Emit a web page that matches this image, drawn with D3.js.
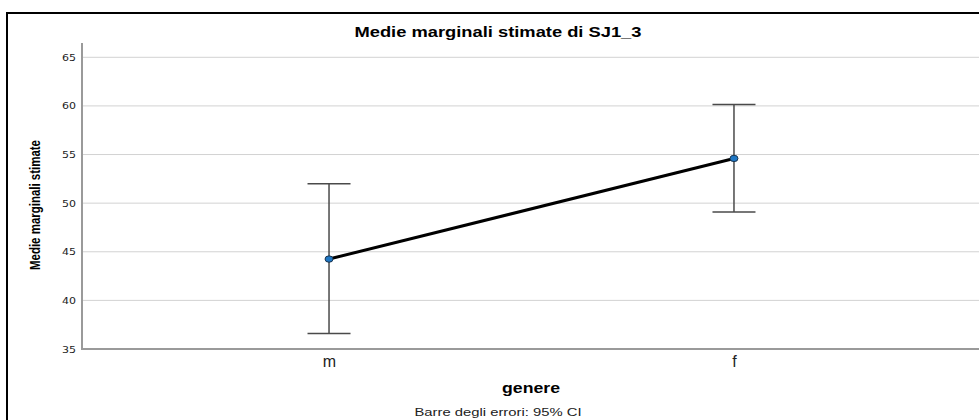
<!DOCTYPE html>
<html><head><meta charset="utf-8">
<script src="https://cdn.jsdelivr.net/npm/d3@7"></script>
<style>body{margin:0;background:#fff}svg{display:block}</style>
</head><body>
<svg id="c" width="979" height="420"></svg>
<script>
const categories = ["m", "f"];
const means = [44.25, 54.6];
const lower = [36.6, 49.1];
const upper = [52.0, 60.15];
const yTicks = [35, 40, 45, 50, 55, 60, 65];

const svg = d3.select("#c");
const L = 82, R = 981, T = 43, B = 349;
svg.append("rect").attr("x", 7).attr("y", 13).attr("width", 1010).attr("height", 420)
  .attr("fill", "#fff").attr("stroke", "#000").attr("stroke-width", 2);

const y = d3.scaleLinear().domain([35, 65]).range([B, 57.3]);
const x = d3.scalePoint().domain(categories).range([L, R]).padding(0.61);

// gridlines
svg.append("g").selectAll("line").data(yTicks.slice(1)).join("line")
  .attr("x1", L).attr("x2", R).attr("y1", d => y(d)).attr("y2", d => y(d))
  .attr("stroke", "#d2d2d2").attr("stroke-width", 1);

// y axis
const ya = svg.append("g").attr("transform", `translate(${L},0)`)
  .call(d3.axisLeft(y).tickValues(yTicks).tickSize(0).tickPadding(6));
ya.select(".domain").remove();
ya.selectAll("text").attr("font-family", "DejaVu Sans").attr("font-size", 9.5).attr("fill", "#222")
  .attr("textLength", 14).attr("lengthAdjust", "spacingAndGlyphs");
svg.append("line").attr("x1", L).attr("x2", L).attr("y1", T).attr("y2", B + 1)
  .attr("stroke", "#9a9a9a").attr("stroke-width", 2);

// x axis
const xa = svg.append("g").attr("transform", `translate(0,${B})`)
  .call(d3.axisBottom(x).tickSize(0).tickPadding(0));
xa.select(".domain").remove();
xa.selectAll("text").attr("dy", null).attr("y", 18)
  .attr("font-family", "Liberation Sans").attr("font-size", 16).attr("fill", "#222");
svg.append("line").attr("x1", L - 1).attr("x2", R).attr("y1", B).attr("y2", B)
  .attr("stroke", "#9a9a9a").attr("stroke-width", 2);

// error bars
const eb = svg.append("g").attr("stroke", "#4a4a4a").attr("stroke-width", 1.5);
categories.forEach((c, i) => {
  eb.append("line").attr("x1", x(c)).attr("x2", x(c)).attr("y1", y(lower[i])).attr("y2", y(upper[i]));
  [lower[i], upper[i]].forEach(v => {
    eb.append("line").attr("x1", x(c) - 21.5).attr("x2", x(c) + 21.5).attr("y1", y(v)).attr("y2", y(v));
  });
});

// line
svg.append("path").datum(categories.map((c, i) => [x(c), y(means[i])]))
  .attr("d", d3.line()).attr("fill", "none").attr("stroke", "#000").attr("stroke-width", 3);

// points
svg.append("g").selectAll("ellipse").data(categories).join("ellipse")
  .attr("cx", d => x(d)).attr("cy", (d, i) => y(means[i])).attr("rx", 4).attr("ry", 3.2)
  .attr("fill", "#1f77c4").attr("stroke", "#1a3550").attr("stroke-width", 1);

// titles
svg.append("text").attr("x", 498).attr("y", 37).attr("text-anchor", "middle")
  .attr("font-family", "Liberation Sans").attr("font-weight", "bold").attr("font-size", 15.5)
  .attr("textLength", 287).attr("lengthAdjust", "spacingAndGlyphs")
  .text("Medie marginali stimate di SJ1_3");
svg.append("text").attr("x", 531).attr("y", 393).attr("text-anchor", "middle")
  .attr("font-family", "Liberation Sans").attr("font-weight", "bold").attr("font-size", 15)
  .attr("textLength", 58).attr("lengthAdjust", "spacingAndGlyphs")
  .text("genere");
svg.append("text").attr("x", 498).attr("y", 416).attr("text-anchor", "middle")
  .attr("font-family", "Liberation Sans").attr("font-size", 11.5).attr("fill", "#222")
  .attr("textLength", 167).attr("lengthAdjust", "spacingAndGlyphs")
  .text("Barre degli errori: 95% CI");
svg.append("text").attr("transform", "translate(40,205) rotate(-90)").attr("text-anchor", "middle")
  .attr("font-family", "Liberation Sans Narrow, Liberation Sans").attr("font-weight", "bold").attr("font-size", 15)
  .attr("textLength", 130).attr("lengthAdjust", "spacingAndGlyphs")
  .text("Medie marginali stimate");
</script>
</body></html>
